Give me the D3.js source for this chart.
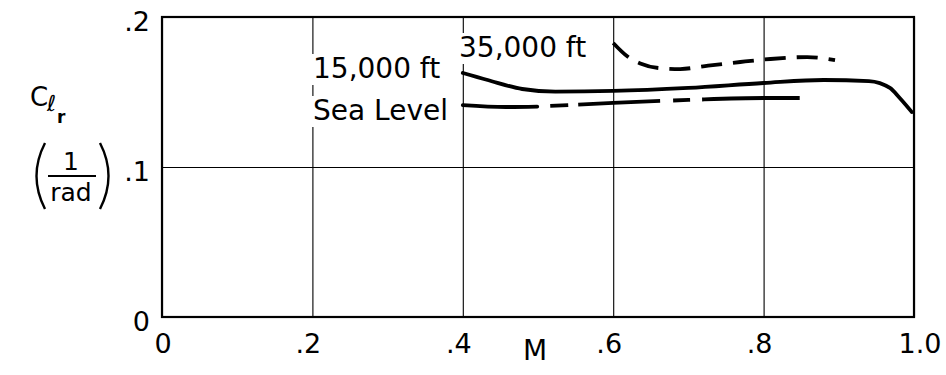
<!DOCTYPE html>
<html>
<head>
<meta charset="utf-8">
<script src="https://cdn.jsdelivr.net/npm/d3@7"></script>
<style>
  html, body { margin: 0; padding: 0; background: #fff; }
  svg { display: block; }
  text { font-family: "DejaVu Sans", sans-serif; fill: #000; }
</style>
</head>
<body>
<svg id="chart" width="946" height="375"></svg>
<script>
// ---- data ----
const xTicks = [0, 0.2, 0.4, 0.6, 0.8, 1.0];
const xTickLabels = ["0", ".2", ".4", ".6", ".8", "1.0"];
const yTicks = [0, 0.1, 0.2];
const yTickLabels = ["0", ".1", ".2"];

const alt15_M = [0.400, 0.433, 0.479, 0.523, 0.600, 0.700, 0.800, 0.880, 0.940, 0.968, 0.981, 0.997];
const alt15_C = [0.1627, 0.1580, 0.1520, 0.1503, 0.1507, 0.1527, 0.1560, 0.1580, 0.1573, 0.1527, 0.1460, 0.1367];

const seaLevel_M = [0.400, 0.457, 0.499, 0.600, 0.700, 0.800, 0.848];
const seaLevel_C = [0.1413, 0.1400, 0.1403, 0.1427, 0.1447, 0.1460, 0.1460];

const alt35_M = [0.600, 0.620, 0.636, 0.660, 0.689, 0.722, 0.769, 0.809, 0.858, 0.895];
const alt35_C = [0.1827, 0.1733, 0.1690, 0.1660, 0.1653, 0.1673, 0.1700, 0.1720, 0.1733, 0.1713];

const seriesLabels = ["15,000 ft", "Sea Level", "35,000 ft"];

// ---- layout ----
const svg = d3.select("#chart");
const padL = 162, padR = 914, padT = 17, padB = 317;
const x = d3.scaleLinear().domain([0, 1]).range([padL, padR]);
const y = d3.scaleLinear().domain([0, 0.2]).range([padB, padT]);

// grid (via axes)
const gx = svg.append("g").attr("transform", `translate(0,${padB})`)
  .call(d3.axisBottom(x).tickValues(xTicks).tickSize(-(padB - padT)).tickFormat(""));
gx.select(".domain").remove();
gx.selectAll("line").attr("stroke", "#000").attr("stroke-width", 1.1);

const gy = svg.append("g").attr("transform", `translate(${padL},0)`)
  .call(d3.axisLeft(y).tickValues(yTicks).tickSize(-(padR - padL)).tickFormat(""));
gy.select(".domain").remove();
gy.selectAll("line").attr("stroke", "#000").attr("stroke-width", 1.1);

// frame
svg.append("rect")
  .attr("x", x(0)).attr("y", y(0.2))
  .attr("width", x(1) - x(0)).attr("height", y(0) - y(0.2))
  .attr("fill", "none").attr("stroke", "#000").attr("stroke-width", 2.2);

// tick labels
svg.append("g").selectAll("text").data(xTicks).join("text")
  .attr("x", (d, i) => x(d) + (xTickLabels[i].startsWith(".") ? -4 : (d === 1 ? 6 : 1)))
  .attr("y", padB + 36)
  .attr("text-anchor", "middle")
  .attr("font-size", 27)
  .text((d, i) => xTickLabels[i]);

svg.append("g").selectAll("text").data(yTicks).join("text")
  .attr("x", padL - 12)
  .attr("y", d => y(d) + 14)
  .attr("text-anchor", "end")
  .attr("font-size", 27)
  .text((d, i) => yTickLabels[i]);

// axis title M
svg.append("text").attr("x", 535).attr("y", 360)
  .attr("text-anchor", "middle").attr("font-size", 28).text("M");

// y-axis title C_l_r (1/rad)
const yt = svg.append("g");
yt.append("text").attr("x", 30).attr("y", 106).attr("font-size", 26).text("C");
yt.append("text").attr("x", 47).attr("y", 111).attr("font-size", 22).attr("font-style", "italic").text("\u2113");
yt.append("text").attr("x", 57).attr("y", 123).attr("font-size", 17).attr("font-weight", "bold").text("r");
yt.append("text").attr("x", 71).attr("y", 170).attr("text-anchor", "middle").attr("font-size", 25).text("1");
yt.append("line").attr("x1", 48).attr("x2", 96).attr("y1", 176).attr("y2", 176)
  .attr("stroke", "#000").attr("stroke-width", 2);
yt.append("text").attr("x", 71).attr("y", 201).attr("text-anchor", "middle").attr("font-size", 25).text("rad");
yt.append("path").attr("d", "M45,143 Q28,176 45,209").attr("fill", "none").attr("stroke", "#000").attr("stroke-width", 2.4);
yt.append("path").attr("d", "M100,143 Q117,176 100,209").attr("fill", "none").attr("stroke", "#000").attr("stroke-width", 2.4);

// curves
const line = d3.line().x(d => x(d[0])).y(d => y(d[1])).curve(d3.curveMonotoneX);
const zip = (a, b) => a.map((v, i) => [v, b[i]]);

const cg = svg.append("g").attr("fill", "none").attr("stroke", "#000")
  .attr("stroke-width", 3.8).attr("stroke-linecap", "round");

// 15,000 ft solid
cg.append("path").attr("d", line(zip(alt15_M, alt15_C)));

// Sea level: solid to M=0.5 then long/short dashes
const sl = zip(seaLevel_M, seaLevel_C);
cg.append("path").attr("d", line(sl.slice(0, 3)));
cg.append("path").attr("d", line(sl.slice(2)))
  .attr("stroke-linecap", "butt")
  .attr("stroke-dasharray", "0,13,18,10,82,13,17,12,98");

// 35,000 ft dashed
cg.append("path").attr("d", line(zip(alt35_M, alt35_C)))
  .attr("stroke-linecap", "butt")
  .attr("stroke-dasharray", "21,11");

// series labels with white backing (gridlines stop at the lettering)
const labelPos = [[313, 78], [313, 120], [459, 57]];
const lg = svg.append("g");
seriesLabels.forEach((s, i) => {
  const bg = lg.append("rect").attr("fill", "#fff");
  const t = lg.append("text").attr("x", labelPos[i][0]).attr("y", labelPos[i][1])
    .attr("font-size", 28).text(s);
  const b = t.node().getBBox();
  bg.attr("x", b.x - 2).attr("y", b.y + 2).attr("width", b.width + 3).attr("height", b.height - 2);
});
</script>
</body>
</html>
